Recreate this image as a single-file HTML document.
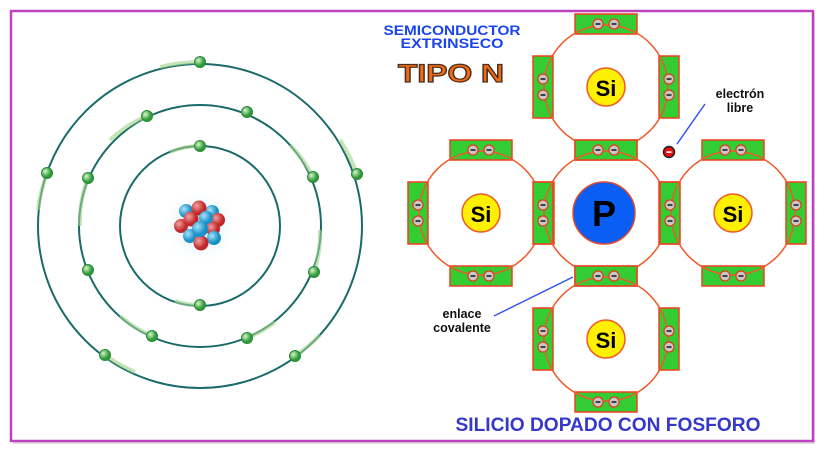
<!DOCTYPE html>
<html><head><meta charset="utf-8"><style>
html,body{margin:0;padding:0;background:#fff}
svg{display:block}
</style></head><body>
<svg width="825" height="452" viewBox="0 0 825 452" xmlns="http://www.w3.org/2000/svg">
<defs>
<radialGradient id="glow"><stop offset="0" stop-color="#bfe3f7"/><stop offset="1" stop-color="#fff" stop-opacity="0"/></radialGradient>
<radialGradient id="red" cx="0.35" cy="0.35"><stop offset="0" stop-color="#f5a0a0"/><stop offset="1" stop-color="#c0282a"/></radialGradient>
<radialGradient id="blue" cx="0.35" cy="0.35"><stop offset="0" stop-color="#a8e4fa"/><stop offset="1" stop-color="#1890c8"/></radialGradient>
<radialGradient id="grn" cx="0.35" cy="0.35"><stop offset="0" stop-color="#d8f5c8"/><stop offset="1" stop-color="#2e9a3a"/></radialGradient>
<g id="el"><circle r="5" fill="#c8c8c8" stroke="#e23a1a" stroke-width="1.2"/><rect x="-2.5" y="-0.8" width="5" height="1.6" fill="#222"/></g>
<g id="cell">
<rect x="-31" y="-73" width="62" height="20" fill="#33cc33" stroke="#f04020" stroke-width="1.5"/>
<rect x="-31" y="53" width="62" height="20" fill="#33cc33" stroke="#f04020" stroke-width="1.5"/>
<rect x="-73" y="-31" width="20" height="62" fill="#33cc33" stroke="#f04020" stroke-width="1.5"/>
<rect x="53" y="-31" width="20" height="62" fill="#33cc33" stroke="#f04020" stroke-width="1.5"/>
<circle r="62" fill="none" stroke="#f05a2a" stroke-width="1.5"/>
<use href="#el" x="-8" y="-63"/><use href="#el" x="8" y="-63"/>
<use href="#el" x="-8" y="63"/><use href="#el" x="8" y="63"/>
<use href="#el" x="-63" y="-8"/><use href="#el" x="-63" y="8"/>
<use href="#el" x="63" y="-8"/><use href="#el" x="63" y="8"/>
</g>
</defs>
<rect x="13" y="13" width="802" height="431" fill="#ccc" opacity="0.6"/>
<rect x="11" y="11" width="802" height="430" fill="#fff" stroke="#c040c0" stroke-width="2.5"/>

<!-- atom -->
<circle cx="200" cy="226" r="40" fill="url(#glow)"/>
<g fill="none" stroke="#1a6a6a" stroke-width="2">
<circle cx="200" cy="226" r="80"/>
<circle cx="200" cy="226" r="121"/>
<circle cx="200" cy="226" r="162"/>
</g>
<g stroke="#9fd58a" stroke-width="4" fill="none" opacity="0.6">
<path d="M200 146 A80 80 0 0 0 170 152"/><path d="M200 305 A80 80 0 0 1 175 301"/>
<path d="M147 116 A121 121 0 0 0 110 140"/><path d="M313 177 A121 121 0 0 0 290 145"/>
<path d="M88 178 A121 121 0 0 0 80 226"/><path d="M314 272 A121 121 0 0 0 320 230"/>
<path d="M152 336 A121 121 0 0 1 120 316"/><path d="M247 338 A121 121 0 0 0 275 322"/>
<path d="M200 62 A162 162 0 0 0 160 67"/><path d="M357 174 A162 162 0 0 0 340 140"/>
<path d="M47 173 A162 162 0 0 0 38 210"/><path d="M105 355 A162 162 0 0 0 135 372"/>
<path d="M295 356 A162 162 0 0 0 320 335"/>
</g>
<g fill="url(#grn)" stroke="#2a8a3a" stroke-width="1">
<circle cx="200" cy="146" r="5.5"/><circle cx="200" cy="305" r="5.5"/>
<circle cx="147" cy="116" r="5.5"/><circle cx="247" cy="112" r="5.5"/><circle cx="313" cy="177" r="5.5"/><circle cx="88" cy="178" r="5.5"/>
<circle cx="88" cy="270" r="5.5"/><circle cx="314" cy="272" r="5.5"/><circle cx="152" cy="336" r="5.5"/><circle cx="247" cy="338" r="5.5"/>
<circle cx="200" cy="62" r="5.5"/><circle cx="47" cy="173" r="5.5"/><circle cx="357" cy="174" r="5.5"/><circle cx="105" cy="355" r="5.5"/><circle cx="295" cy="356" r="5.5"/>
</g>
<g>
<circle cx="186" cy="211" r="7" fill="url(#blue)"/><circle cx="212" cy="212" r="7" fill="url(#blue)"/>
<circle cx="199" cy="208" r="7.5" fill="url(#red)"/><circle cx="218" cy="220" r="7" fill="url(#red)"/>
<circle cx="181" cy="226" r="7" fill="url(#red)"/><circle cx="206" cy="218" r="7" fill="url(#blue)"/>
<circle cx="191" cy="219" r="7.5" fill="url(#red)"/><circle cx="213" cy="229" r="7" fill="url(#red)"/>
<circle cx="214" cy="238" r="7" fill="url(#blue)"/><circle cx="190" cy="236" r="7" fill="url(#blue)"/>
<circle cx="201" cy="243" r="7.5" fill="url(#red)"/><circle cx="200" cy="229" r="8" fill="url(#blue)"/>
</g>

<!-- lattice -->
<use href="#cell" x="606" y="87"/>
<use href="#cell" x="481" y="213"/>
<use href="#cell" x="606" y="213"/>
<use href="#cell" x="733" y="213"/>
<use href="#cell" x="606" y="339"/>
<g font-family="Liberation Sans, sans-serif" font-weight="bold" text-anchor="middle">
<circle cx="606" cy="87" r="19" fill="#ffef00" stroke="#f05a2a" stroke-width="1.5"/><text x="606" y="96" font-size="22">Si</text>
<circle cx="481" cy="213" r="19" fill="#ffef00" stroke="#f05a2a" stroke-width="1.5"/><text x="481" y="222" font-size="22">Si</text>
<circle cx="733" cy="213" r="19" fill="#ffef00" stroke="#f05a2a" stroke-width="1.5"/><text x="733" y="222" font-size="22">Si</text>
<circle cx="606" cy="339" r="19" fill="#ffef00" stroke="#f05a2a" stroke-width="1.5"/><text x="606" y="348" font-size="22">Si</text>
<circle cx="604" cy="213" r="31" fill="#0a5ef5" stroke="#e04a2a" stroke-width="1.5"/><text x="604" y="226" font-size="36">P</text>
</g>
<circle cx="669" cy="152" r="5.5" fill="#e81010" stroke="#222" stroke-width="1.5"/><rect x="666.5" y="151.3" width="5" height="1.6" fill="#fff"/>
<line x1="677" y1="144" x2="705" y2="104" stroke="#3355ee" stroke-width="1.5"/>
<line x1="494" y1="316" x2="573" y2="277" stroke="#3355ee" stroke-width="1.5"/>

<g font-family="Liberation Sans, sans-serif" font-weight="bold" text-anchor="middle">
<text x="452" y="35" font-size="13.5" fill="#1a44ee" textLength="137" lengthAdjust="spacingAndGlyphs">SEMICONDUCTOR</text>
<text x="452" y="48" font-size="13.5" fill="#1a44ee" textLength="103" lengthAdjust="spacingAndGlyphs">EXTRINSECO</text>
<text x="451" y="82" font-size="25" fill="#f06a14" stroke="#4a3020" stroke-width="1.2" textLength="106" lengthAdjust="spacingAndGlyphs">TIPO N</text>
<text x="740" y="98" font-size="12.5" fill="#111">electrón</text>
<text x="740" y="112" font-size="12.5" fill="#111">libre</text>
<text x="462" y="318" font-size="12.5" fill="#111">enlace</text>
<text x="462" y="332" font-size="12.5" fill="#111">covalente</text>
<text x="608" y="431" font-size="19" fill="#3538c8" textLength="305" lengthAdjust="spacingAndGlyphs">SILICIO DOPADO CON FOSFORO</text>
</g>
</svg>
</body></html>
